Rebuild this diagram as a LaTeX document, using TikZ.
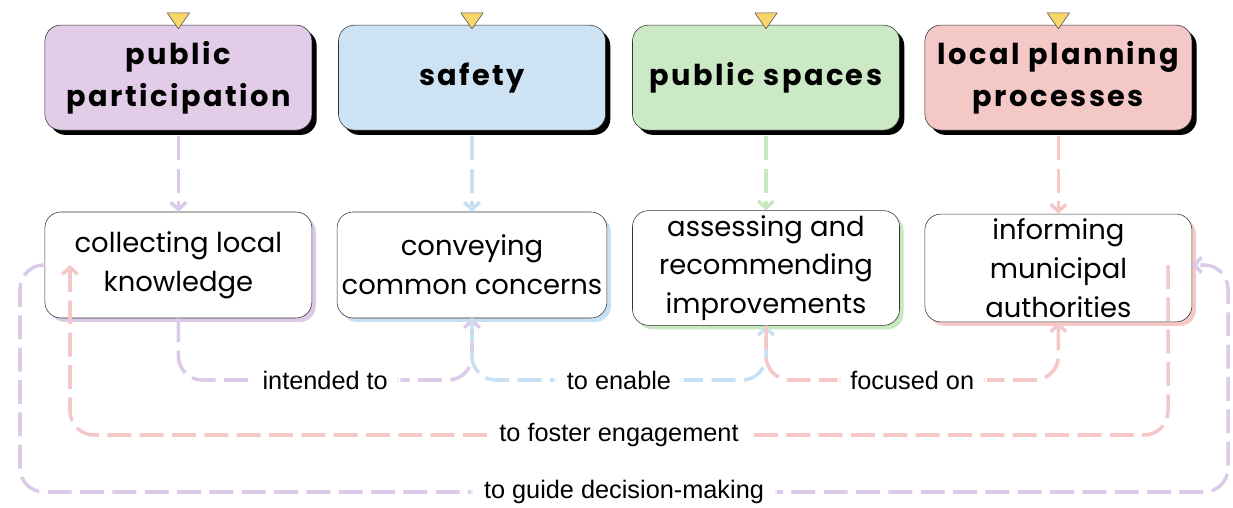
\documentclass[tikz,border=0pt]{standalone}
\usepackage{fontspec}
\setmainfont{Poppins}
\newfontfamily\headfont{Poppins}[LetterSpace=8.5]
\newfontfamily\linkfont{Liberation Sans}
\usetikzlibrary{arrows.meta, shadows}

\definecolor{purplefill}{RGB}{226,204,231}
\definecolor{bluefill}{RGB}{205,227,243}
\definecolor{greenfill}{RGB}{204,233,197}
\definecolor{pinkfill}{RGB}{244,200,198}
\definecolor{purpleline}{RGB}{220,203,232}
\definecolor{blueline}{RGB}{200,224,243}
\definecolor{greenline}{RGB}{198,232,190}
\definecolor{pinkline}{RGB}{245,199,199}
\definecolor{tipyellow}{RGB}{247,214,106}

\tikzset{
    head/.style={draw=black!80, rounded corners=0.4cm, minimum width=6.675cm, minimum height=2.625cm, align=center,
        font=\headfont\bfseries\fontsize{20.5}{30}\selectfont,
        general shadow={fill=black, shadow xshift=0.12cm, shadow yshift=-0.12cm}},
    item/.style={draw=black!80, fill=white, rounded corners=0.4cm, minimum width=6.675cm, minimum height=2.65cm, align=center,
        font=\fontsize{19.5}{27.5}\selectfont,
        general shadow={fill=#1, shadow xshift=0.1cm, shadow yshift=-0.1cm}},
    link/.style={line width=2.5pt, dash pattern=on 17pt off 6pt, rounded corners=0.6cm, -{Straight Barb[length=5pt,width=11pt]}},
    lbl/.style={fill=white, text=black, inner xsep=9pt, font=\linkfont\fontsize{18}{20}\selectfont},
    marker/.style={draw=black!70, fill=tipyellow, line join=round},
}

\begin{document}
\begin{tikzpicture}
\useasboundingbox (0,0) rectangle (30.825,12.7);

% topic boxes
\node[head, fill=purplefill] (part) at (4.46,10.76) {public\\participation};
\node[head, fill=bluefill] (safe) at (11.8,10.76) {safety};
\node[head, fill=greenfill] (space) at (19.15,10.76) {public spaces};
\node[head, fill=pinkfill] (plan) at (26.46,10.76) {local planning\\processes};

\foreach \n in {part, safe, space, plan}
    \draw[marker] ([xshift=-0.28cm, yshift=0.3cm]\n.north) -- ([xshift=0.28cm, yshift=0.3cm]\n.north) -- ([yshift=-0.1cm]\n.north) -- cycle;

% activity boxes
\node[item=purpleline] (collect) at (4.46,6.075) {collecting local\\knowledge};
\node[item=blueline] (convey) at (11.8,6.075) {conveying\\common concerns};
\node[item=greenline] (assess) at (19.15,6.0) {assessing and\\recommending\\improvements};
\node[item=pinkline] (inform) at (26.46,6.0) {informing\\municipal\\authorities};

\draw[link, purpleline, shorten <=0.15cm] (part.south) -- (collect.north);
\draw[link, blueline, shorten <=0.15cm] (safe.south) -- (convey.north);
\draw[link, greenline, shorten <=0.15cm] (space.south) -- (assess.north);
\draw[link, pinkline, shorten <=0.15cm] (plan.south) -- (inform.north);

\coordinate (low) at (0,3.2);
\coordinate (fl) at (1.75,1.825);
\coordinate (fr) at (29.2,1.825);
\coordinate (gl) at (0.5,0.4);
\coordinate (gr) at (30.7,0.4);

\draw[link, purpleline] (collect.south) -- (collect.south |- low) -- node[lbl] {intended to} (convey.south |- low) -- (convey.south);
\draw[link, blueline] (convey.south) -- (convey.south |- low) -- node[lbl] {to enable} (assess.south |- low) -- (assess.south);
\draw[link, pinkline] (assess.south) -- (assess.south |- low) -- node[lbl] {focused on} (inform.south |- low) -- (inform.south);

\draw[link, pinkline] (fr |- collect.east) -- (fr) -- node[lbl] {to foster engagement} (fl) -- (fl |- collect.west);
\draw[link, purpleline] (collect.west) -| (gl) -- node[lbl] {to guide decision-making} (gr) |- (collect.east -| inform.east);

\end{tikzpicture}
\end{document}
